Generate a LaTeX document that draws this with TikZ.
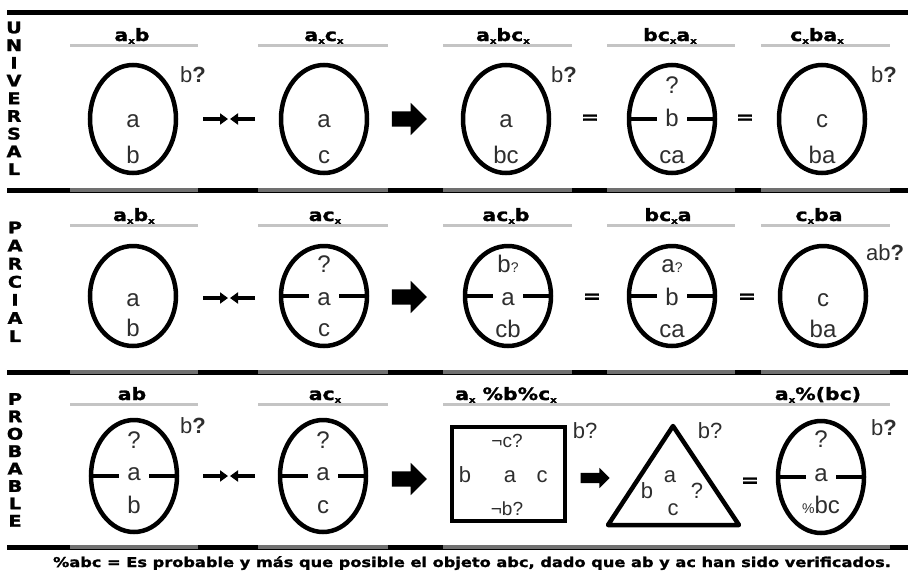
\documentclass[tikz,border=0pt]{standalone}
\usepackage{fontspec}
\setmainfont{Liberation Sans}
\newfontfamily\widefont[FakeStretch=1.2,BoldFeatures={FakeBold=1.5}]{DejaVu Sans}
\usetikzlibrary{positioning,arrows.meta,shapes.geometric,shapes.arrows}
\definecolor{tinta}{HTML}{2E2E2E}
\definecolor{rayaGris}{HTML}{C4C4C4}
\definecolor{sepGris}{HTML}{707070}
\newcommand{\subx}{\raisebox{-0.3ex}{\fontsize{8.5}{8.5}\selectfont x}}
\newcommand{\pq}{\textbf{?}}
\newcommand{\partir}[1]{\draw[line width=4.5pt] (#1.west) -- ([xshift=-15pt]#1.center) ([xshift=15pt]#1.center) -- (#1.east);}

\begin{document}
\begin{tikzpicture}[x=1pt, y=-1pt,
    huevo/.style={ellipse, draw, line width=4.5pt, minimum width=86pt, inner sep=0pt},
    letra/.style={font=\fontsize{24}{24}\selectfont, text=tinta, anchor=base, inner sep=0pt},
    duda/.style={font=\fontsize{22}{22}\selectfont, text=tinta, anchor=base, inner sep=0pt},
    chica/.style={font=\fontsize{19}{19}\selectfont, text=tinta, anchor=base, inner sep=0pt},
    titulo/.style={font=\widefont\bfseries\fontsize{17}{17}\selectfont, anchor=base, inner sep=0pt},
    vletra/.style={font=\widefont\bfseries\fontsize{16}{16}\selectfont, inner sep=0pt},
    igual/.style={font=\widefont\bfseries\fontsize{18}{18}\selectfont, inner sep=0pt},
    flecha/.style={single arrow, fill=black, inner sep=7.5pt, single arrow head extend=8.5pt,
                   single arrow tip angle=90, minimum height=35pt},
    flechita/.style={single arrow, fill=black, inner sep=5pt, single arrow head extend=5pt,
                     single arrow tip angle=90, minimum height=29pt},
    choque/.style={line width=4.5pt, -{Triangle[length=8pt,width=11pt]}},
    raya/.style={rayaGris, line width=3pt}]
  \useasboundingbox (0,0) rectangle (908,587);

  % lineas de separacion
  \draw[line width=5pt] (7,12) -- (908,12);
  \foreach \y in {190,372,547}
    \draw[line width=5pt] (7,\y) -- (908,\y);
  \foreach \y in {190,372}
    \foreach \a/\b in {70/198,258/388,443/572,607/735,761/890}
      \draw[sepGris, line width=3.5pt] (\a,\y) -- (\b,\y);
  \foreach \a/\b in {70/198,258/388,443/890}
    \draw[sepGris, line width=3.5pt] (\a,547) -- (\b,547);
  \foreach \y in {45,225}
    \foreach \a/\b in {70/198,258/388,443/572,607/735,761/890}
      \draw[raya] (\a,\y) -- (\b,\y);
  \foreach \a/\b in {70/198,258/388,443/890}
    \draw[raya] (\a,404) -- (\b,404);

  % rotulos verticales
  \foreach \ch [count=\i] in {U,N,I,V,E,R,S,A,L}
    \node[vletra] (uni\i) at (14,{27.5+17.7*(\i-1)}) {\ch};
  \foreach \ch [count=\i] in {P,A,R,C,I,A,L}
    \node[vletra] (par\i) at (15,{227.5+18.1*(\i-1)}) {\ch};
  \foreach \ch [count=\i] in {P,R,O,B,A,B,L,E}
    \node[vletra] (pro\i) at (15,{399+17.4*(\i-1)}) {\ch};

  % UNIVERSAL
  \node[titulo] (h11) at (132,41) {a\subx b};
  \node[titulo] (h12) at (324,41) {a\subx c\subx};
  \node[titulo] (h13) at (503,41) {a\subx bc\subx};
  \node[titulo] (h14) at (670,41) {bc\subx a\subx};
  \node[titulo] (h15) at (817,41) {c\subx ba\subx};

  \node[huevo, minimum height=108pt] (u1) at (133,119) {};
  \node[letra] (u1a) at (133,127) {a};
  \node[letra] (u1b) at (133,163) {b};
  \node[duda]  (u1q) at (193,82) {b\pq};
  \coordinate (u1l) at (203,119); \coordinate (u1m) at (228,119);
  \coordinate (u1r) at (255,119); \coordinate (u1n) at (230,119);
  \draw[choque] (u1l) -- (u1m);
  \draw[choque] (u1r) -- (u1n);
  \node[huevo, minimum height=108pt] (u2) at (324,119) {};
  \node[letra] (u2a) at (324,127) {a};
  \node[letra] (u2c) at (324,163) {c};
  \node[flecha] (uf) at (405.5,119) {};
  \node[huevo, minimum height=108pt] (u3) at (506,119) {};
  \node[letra] (u3a) at (506,127) {a};
  \node[letra] (u3b) at (506,163) {bc};
  \node[duda]  (u3q) at (564,82) {b\pq};
  \node[igual] (ue1) at (590,119) {=};
  \node[huevo, minimum height=108pt] (u4) at (672,119) {};
  \partir{u4}
  \node[letra] (u4q) at (672,93) {?};
  \node[letra] (u4b) at (672,126) {b};
  \node[letra] (u4c) at (672,163) {ca};
  \node[igual] (ue2) at (745,119) {=};
  \node[huevo, minimum height=108pt] (u5) at (822,119) {};
  \node[letra] (u5a) at (822,127) {c};
  \node[letra] (u5b) at (822,163) {ba};
  \node[duda]  (u5q) at (884,82) {b\pq};

  % PARCIAL
  \node[titulo] (h21) at (134,221) {a\subx b\subx};
  \node[titulo] (h22) at (325,221) {ac\subx};
  \node[titulo] (h23) at (506,221) {ac\subx b};
  \node[titulo] (h24) at (668,221) {bc\subx a};
  \node[titulo] (h25) at (819,221) {c\subx ba};

  \node[huevo, minimum height=100pt] (p1) at (133,296) {};
  \node[letra] (p1a) at (133,306) {a};
  \node[letra] (p1b) at (133,336) {b};
  \coordinate (p1l) at (203,298); \coordinate (p1m) at (228,298);
  \coordinate (p1r) at (255,298); \coordinate (p1n) at (230,298);
  \draw[choque] (p1l) -- (p1m);
  \draw[choque] (p1r) -- (p1n);
  \node[huevo, minimum height=100pt] (p2) at (324,296) {};
  \partir{p2}
  \node[letra] (p2q) at (324,272) {?};
  \node[letra] (p2a) at (324,305) {a};
  \node[letra] (p2c) at (324,336) {c};
  \node[flecha] (pf) at (405.5,297) {};
  \node[huevo, minimum height=100pt] (p3) at (508,296) {};
  \partir{p3}
  \node[letra] (p3q) at (508,272) {b{\fontsize{14}{14}\selectfont ?}};
  \node[letra] (p3a) at (508,305) {a};
  \node[letra] (p3c) at (508,337) {cb};
  \node[igual] (pe1) at (592,298) {=};
  \node[huevo, minimum height=100pt] (p4) at (672,296) {};
  \partir{p4}
  \node[letra] (p4q) at (672,272) {a{\fontsize{14}{14}\selectfont ?}};
  \node[letra] (p4b) at (672,305) {b};
  \node[letra] (p4c) at (672,337) {ca};
  \node[igual] (pe2) at (747,298) {=};
  \node[huevo, minimum height=100pt] (p5) at (823,296) {};
  \node[letra] (p5a) at (823,306) {c};
  \node[letra] (p5b) at (823,337) {ba};
  \node[duda]  (p5q) at (885,260) {ab\pq};

  % PROBABLE
  \node[titulo] (h31) at (132,400) {ab};
  \node[titulo] (h32) at (325,400) {ac\subx};
  \node[titulo] (h33) at (506,400) {a\subx\ \%b\%c\subx};
  \node[titulo] (h35) at (818,400) {a\subx\%(bc)};

  \node[huevo, minimum height=112pt] (r1) at (134,476) {};
  \partir{r1}
  \node[letra] (r1q) at (134,448) {?};
  \node[letra] (r1a) at (134,480) {a};
  \node[letra] (r1b) at (134,513) {b};
  \node[duda]  (r1d) at (193,433) {b\pq};
  \coordinate (r1l) at (203,476); \coordinate (r1m) at (228,476);
  \coordinate (r1r) at (255,476); \coordinate (r1n) at (230,476);
  \draw[choque] (r1l) -- (r1m);
  \draw[choque] (r1r) -- (r1n);
  \node[huevo, minimum height=112pt] (r2) at (323,476) {};
  \partir{r2}
  \node[letra] (r2q) at (323,448) {?};
  \node[letra] (r2a) at (323,480) {a};
  \node[letra] (r2c) at (323,513) {c};
  \node[flecha] (rf) at (405.5,479) {};

  \node[draw, line width=4.5pt, minimum width=113pt, minimum height=94pt] (caja) at (508.5,474) {};
  \node[chica] (cajaN) at (507,447) {¬c?};
  \node[duda]  (cajaW) at (465,482) {b};
  \node[duda]  (cajaC) at (510,482) {a};
  \node[duda]  (cajaE) at (542,482) {c};
  \node[chica] (cajaS) at (507,515) {¬b?};
  \node[duda]  (cajaQ) at (585,438) {b?};
  \node[flechita] (rf2) at (592.5,478) {};

  \coordinate (triA) at (673,426);
  \coordinate (triB) at (608,525);
  \coordinate (triC) at (739,525);
  \draw[line width=4.5pt, line join=round] (triA) -- (triB) -- (triC) -- cycle;
  \node[duda] (tria) at (670,482) {a};
  \node[duda] (trib) at (647,498) {b};
  \node[duda] (triq) at (697,498) {?};
  \node[duda] (tric) at (673,515) {c};
  \node[duda] (triQ) at (710,438) {b?};
  \node[igual] (re1) at (750,482) {=};

  \node[huevo, minimum height=112pt] (r5) at (821,477) {};
  \partir{r5}
  \node[letra] (r5q) at (821,447) {?};
  \node[letra] (r5a) at (821,481) {a};
  \node[letra] (r5c) at (821,513) {{\fontsize{14}{14}\selectfont\%}bc};
  \node[duda]  (r5d) at (884,435) {b\pq};

  % nota
  \node[font=\widefont\bfseries\fontsize{13.5}{13.5}\selectfont, anchor=base, inner sep=0pt]
    (nota) at (472,567) {\%abc = Es probable y más que posible el objeto abc, dado que ab y ac han sido verificados.};
\end{tikzpicture}
\end{document}
